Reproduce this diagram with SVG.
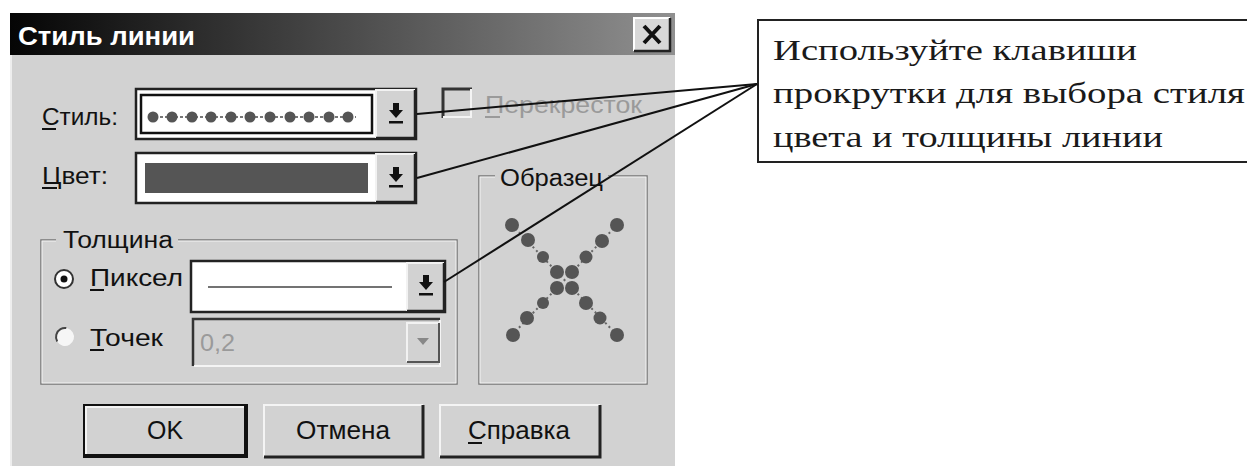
<svg xmlns="http://www.w3.org/2000/svg" xmlns:xlink="http://www.w3.org/1999/xlink" width="1247" height="466" viewBox="0 0 1247 466">
<style>
.ui{font-family:"Liberation Sans",Arial,sans-serif;font-size:23px;fill:#111}
.dis{fill:#9a9a9a}
.btn{font-family:"Liberation Sans",Arial,sans-serif;font-size:25px;fill:#111}
.call{font-family:"Liberation Serif","Times New Roman",serif;font-size:29px;fill:#1a1a1a}
.ul{stroke:#111;stroke-width:2}
.conn{fill:none;stroke:#111;stroke-width:2}
.face{fill:#d2d2d2}
.dot{fill:#555}
</style>
<defs>
<linearGradient id="tg" x1="0" y1="0" x2="1" y2="0">
<stop offset="0" stop-color="#050505"/>
<stop offset="0.5" stop-color="#4a4a4a"/>
<stop offset="1" stop-color="#909090"/>
</linearGradient>
<g id="darr">
<rect x="-3" y="-10" width="6" height="7" fill="#111"/>
<polygon points="-7,-3 7,-3 0,5" fill="#111"/>
<rect x="-7" y="8" width="14" height="2.5" fill="#111"/>
</g>
</defs>
<rect x="0" y="0" width="1247" height="466" fill="#ffffff"/>

<g id="dialog">
<rect x="10" y="13" width="665" height="453" class="face"/>
<line x1="11" y1="13" x2="11" y2="466" stroke="#eeeeee" stroke-width="2"/>
<rect x="10" y="13" width="665" height="42" fill="url(#tg)"/>
<text x="18" y="45" font-family="'Liberation Sans',Arial,sans-serif" font-size="25" font-weight="bold" fill="#ffffff" textLength="177" lengthAdjust="spacingAndGlyphs">Стиль линии</text>
<g id="close-button">
<rect x="634" y="18" width="36" height="33" fill="#d8d8d8"/>
<path d="M634 51 V18 H670" fill="none" stroke="#ffffff" stroke-width="2"/>
<path d="M634 51 H670 V18" fill="none" stroke="#222" stroke-width="2.5"/>
<path d="M644 26 L660 43 M660 26 L644 43" stroke="#111" stroke-width="4"/>
</g>
</g>

<g id="style-field">
<text class="ui" x="42" y="125" textLength="76" lengthAdjust="spacingAndGlyphs">Стиль:</text>
<line class="ul" x1="42" y1="129" x2="56" y2="129"/>
<rect x="136" y="89" width="280" height="50" fill="#ffffff" stroke="#222" stroke-width="2.5"/>
<rect x="141" y="95" width="231" height="38" fill="#ffffff" stroke="#111" stroke-width="2.5"/>
<line x1="150" y1="117" x2="356" y2="117" stroke="#777" stroke-width="2" stroke-dasharray="3 2"/>
<g class="dot">
<circle cx="153" cy="117" r="5.5"/><circle cx="172" cy="117" r="5.5"/><circle cx="192" cy="117" r="5.5"/><circle cx="211" cy="117" r="5.5"/><circle cx="231" cy="117" r="5.5"/><circle cx="250" cy="117" r="5.5"/><circle cx="270" cy="117" r="5.5"/><circle cx="290" cy="117" r="5.5"/><circle cx="309" cy="117" r="5.5"/><circle cx="329" cy="117" r="5.5"/><circle cx="348" cy="117" r="5.5"/>
</g>
<rect x="376" y="90" width="39" height="48" fill="#d2d2d2"/>
<path d="M376 138 V90 H415" fill="none" stroke="#f2f2f2" stroke-width="2"/>
<path d="M376 138 H415 V90" fill="none" stroke="#222" stroke-width="2.5"/>
<use xlink:href="#darr" href="#darr" x="396" y="113"/>
</g>

<g id="crossing-checkbox">
<rect x="442" y="88" width="30" height="30" fill="#d2d2d2"/>
<path d="M443 118 V89 H472" fill="none" stroke="#333" stroke-width="3"/>
<path d="M443 117 H471 V89" fill="none" stroke="#f4f4f4" stroke-width="2"/>
<text class="ui dis" x="485" y="113" textLength="157" lengthAdjust="spacingAndGlyphs">Перекресток</text>
<line x1="485" y1="117" x2="500" y2="117" stroke="#9a9a9a" stroke-width="2"/>
</g>

<g id="color-field">
<text class="ui" x="42" y="184" textLength="66" lengthAdjust="spacingAndGlyphs">Цвет:</text>
<line class="ul" x1="42" y1="188" x2="57" y2="188"/>
<rect x="136" y="153" width="280" height="50" fill="#ffffff" stroke="#222" stroke-width="2.5"/>
<rect x="145" y="163" width="223" height="30" fill="#555555"/>
<rect x="376" y="154" width="39" height="48" fill="#d2d2d2"/>
<path d="M376 202 V154 H415" fill="none" stroke="#f2f2f2" stroke-width="2"/>
<path d="M376 202 H415 V154" fill="none" stroke="#222" stroke-width="2.5"/>
<use xlink:href="#darr" href="#darr" x="396" y="177"/>
</g>

<g id="thickness-group">
<rect x="41" y="240" width="416" height="144" fill="none" stroke="#777" stroke-width="1.5"/>
<rect x="42" y="241" width="414" height="142" fill="none" stroke="#f4f4f4" stroke-width="1"/>
<rect x="56" y="228" width="122" height="24" class="face"/>
<text class="ui" x="63" y="248" textLength="110" lengthAdjust="spacingAndGlyphs">Толщина</text>
<circle cx="64" cy="279" r="9" fill="#ffffff" stroke="#333" stroke-width="2"/>
<circle cx="64" cy="279" r="3.5" fill="#111"/>
<text class="ui" x="90" y="286" textLength="93" lengthAdjust="spacingAndGlyphs">Пиксел</text>
<line class="ul" x1="90" y1="290" x2="104" y2="290"/>
<rect x="191" y="261" width="254" height="51" fill="#ffffff" stroke="#222" stroke-width="2.5"/>
<line x1="208" y1="287" x2="392" y2="287" stroke="#444" stroke-width="1.5"/>
<rect x="407" y="263" width="37" height="48" fill="#d2d2d2"/>
<path d="M407 311 V263 H444" fill="none" stroke="#f2f2f2" stroke-width="2"/>
<path d="M407 311 H444 V263" fill="none" stroke="#222" stroke-width="2.5"/>
<use xlink:href="#darr" href="#darr" x="426" y="285"/>
<circle cx="65" cy="337" r="9" fill="#f6f6f6" stroke="#444" stroke-width="2" stroke-dasharray="20 40" transform="rotate(150 65 337)"/>
<text class="ui" x="90" y="346" textLength="73" lengthAdjust="spacingAndGlyphs">Точек</text>
<line class="ul" x1="90" y1="350" x2="104" y2="350"/>
<rect x="193" y="319" width="247" height="47" fill="#d2d2d2"/>
<path d="M193 366 V319 H440" fill="none" stroke="#333" stroke-width="2.5"/>
<path d="M194 366 H440 V320" fill="none" stroke="#f4f4f4" stroke-width="2"/>
<text class="ui dis" x="200" y="351" textLength="35" lengthAdjust="spacingAndGlyphs">0,2</text>
<rect x="407" y="323" width="32" height="39" fill="#d2d2d2"/>
<path d="M407 362 V323 H439" fill="none" stroke="#f2f2f2" stroke-width="2"/>
<path d="M407 362 H439 V323" fill="none" stroke="#555" stroke-width="2"/>
<polygon points="417,338 429,338 423,345" fill="#888"/>
</g>

<g id="sample-group">
<rect x="479" y="176" width="168" height="208" fill="none" stroke="#777" stroke-width="1.5"/>
<rect x="480" y="177" width="166" height="206" fill="none" stroke="#f4f4f4" stroke-width="1"/>
<rect x="495" y="165" width="113" height="24" class="face"/>
<text class="ui" x="500" y="186" textLength="103" lengthAdjust="spacingAndGlyphs">Образец</text>
<path d="M512 225 L617 335 M617 225 L512 335" stroke="#666" stroke-width="2" stroke-dasharray="2 3"/>
<g class="dot">
<circle cx="512" cy="225" r="7"/><circle cx="528" cy="240" r="7"/><circle cx="543" cy="257" r="6"/>
<circle cx="557" cy="272" r="7"/><circle cx="572" cy="272" r="7"/><circle cx="557" cy="288" r="7"/><circle cx="572" cy="288" r="7"/>
<circle cx="586" cy="303" r="7"/><circle cx="600" cy="318" r="6.5"/><circle cx="617" cy="335" r="7"/>
<circle cx="617" cy="225" r="7"/><circle cx="602" cy="241" r="7"/><circle cx="586" cy="257" r="6.5"/>
<circle cx="543" cy="303" r="6"/><circle cx="527" cy="318" r="7"/><circle cx="513" cy="335" r="7"/>
</g>
</g>

<g id="ok-button">
<rect x="84" y="405" width="163" height="52" fill="#d2d2d2" stroke="#111" stroke-width="2"/>
<path d="M86 454 V407 H244" fill="none" stroke="#f4f4f4" stroke-width="2"/>
<path d="M85 456 H246 V406" fill="none" stroke="#111" stroke-width="4"/>
<text class="btn" x="165" y="439" text-anchor="middle" textLength="36" lengthAdjust="spacingAndGlyphs">OK</text>
</g>
<g id="cancel-button">
<rect x="264" y="405" width="159" height="52" fill="#d2d2d2"/>
<path d="M264 457 V405 H423" fill="none" stroke="#f4f4f4" stroke-width="2"/>
<path d="M264 457 H423 V405" fill="none" stroke="#222" stroke-width="3"/>
<text class="btn" x="343" y="439" text-anchor="middle" textLength="94" lengthAdjust="spacingAndGlyphs">Отмена</text>
</g>
<g id="help-button">
<rect x="440" y="405" width="160" height="52" fill="#d2d2d2"/>
<path d="M440 457 V405 H600" fill="none" stroke="#f4f4f4" stroke-width="2"/>
<path d="M440 457 H600 V405" fill="none" stroke="#222" stroke-width="3"/>
<text class="btn" x="468" y="439" textLength="102" lengthAdjust="spacingAndGlyphs">Справка</text>
<line class="ul" x1="468" y1="443" x2="482" y2="443"/>
</g>

<g id="callout">
<rect x="758" y="20" width="500" height="142" fill="#ffffff" stroke="#222" stroke-width="2"/>
<text class="call" x="773" y="60" textLength="364" lengthAdjust="spacingAndGlyphs">Используйте клавиши</text>
<text class="call" x="773" y="103" textLength="472" lengthAdjust="spacingAndGlyphs">прокрутки для выбора стиля</text>
<text class="call" x="773" y="147" textLength="390" lengthAdjust="spacingAndGlyphs">цвета и толщины линии</text>
</g>

<g id="connectors">
<path class="conn" d="M417 114 L757 84"/>
<path class="conn" d="M417 178 L757 84"/>
<path class="conn" d="M444 282 L757 84"/>
</g>
</svg>
